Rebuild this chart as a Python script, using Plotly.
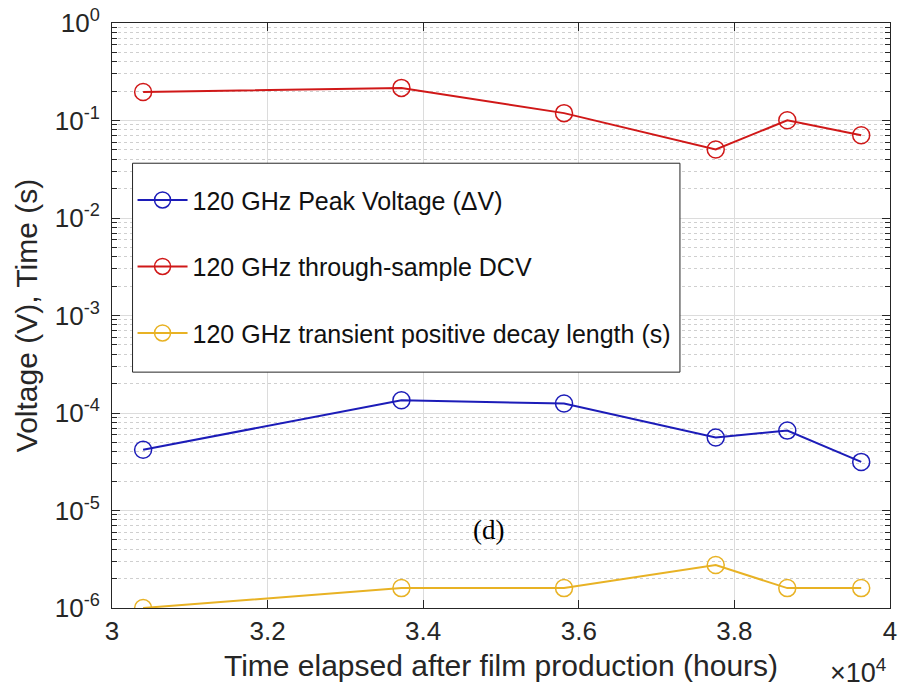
import plotly.graph_objects as go

# ---- data ----
hours = [30400, 33720, 35810, 37760, 38680, 39630]
peak_voltage = [4.2e-5, 1.35e-4, 1.25e-4, 5.6e-5, 6.6e-5, 3.15e-5]
dcv = [0.196, 0.216, 0.119, 0.0505, 0.1006, 0.0706]
decay_len = [1.0e-6, 1.6e-6, 1.6e-6, 2.76e-6, 1.6e-6, 1.6e-6]

names = ["120 GHz Peak Voltage (\u0394V)",
         "120 GHz through-sample DCV",
         "120 GHz transient positive decay length (s)"]
colors = ["#1c1cb8", "#d01818", "#e8b224"]

x_tickvals = [30000, 32000, 34000, 36000, 38000, 40000]
x_ticktext = ["3", "3.2", "3.4", "3.6", "3.8", "4"]
y_exps = [-6, -5, -4, -3, -2, -1, 0]
y_tickvals = [10.0 ** e for e in y_exps]
y_ticktext = ["10<sup>%d</sup>" % e for e in y_exps]
y_minor = [k * 10.0 ** e for e in y_exps[:-1] for k in range(2, 10)]

FONT = "Liberation Sans, Arial, sans-serif"
AX = "#262626"

fig = go.Figure()
for i, (ys, nm, c) in enumerate(zip([peak_voltage, dcv, decay_len], names, colors)):
    fig.add_trace(go.Scatter(
        x=hours, y=ys, name=nm, mode="lines+markers",
        line=dict(color=c, width=2),
        marker=dict(symbol="circle-open", size=17, color=c, line=dict(width=1.5, color=c)),
        legendgroup="g%d" % i,
    ))

fig.update_layout(
    width=899, height=695,
    margin=dict(l=112, r=9, t=23, b=87, autoexpand=False),
    paper_bgcolor="white", plot_bgcolor="white",
    font=dict(family=FONT, color=AX),
    showlegend=True,
    legend=dict(
        x=0.0264, y=0.7364, xanchor="left", yanchor="top",
        bgcolor="rgba(0,0,0,0)", borderwidth=0,
        font=dict(size=25, family=FONT, color="#111111"),
        traceorder="grouped", tracegroupgap=31,
        itemwidth=50,
    ),
    xaxis=dict(
        range=[30000, 40000], tickmode="array", tickvals=x_tickvals, ticktext=x_ticktext,
        showline=True, linecolor=AX, linewidth=1, mirror="ticks",
        ticks="inside", ticklen=8, tickcolor=AX, automargin=False,
        showgrid=True, gridcolor="#dcdcdc", gridwidth=1,
        zeroline=False,
        tickfont=dict(size=26, family=FONT, color=AX),
        title=dict(text="Time elapsed after film production (hours)",
                   font=dict(size=30, family=FONT, color=AX), standoff=9),
    ),
    yaxis=dict(
        type="log", range=[-6, 0], tickmode="array", tickvals=y_tickvals, ticktext=y_ticktext,
        showline=True, linecolor=AX, linewidth=1, mirror="ticks",
        ticks="inside", ticklen=8, tickcolor=AX, automargin=False,
        showgrid=True, gridcolor="#dcdcdc", gridwidth=1,
        zeroline=False,
        tickfont=dict(size=26, family=FONT, color=AX),
        ticklabelstandoff=6,
        minor=dict(tickmode="array", tickvals=y_minor, ticks="inside", ticklen=5,
                   tickcolor=AX, showgrid=True, gridcolor="#cfcfcf", griddash="dot",
                   gridwidth=1),
        title=dict(text="Voltage (V), Time (s)",
                   font=dict(size=30, family=FONT, color=AX), standoff=8),
    ),
)

# legend box (white, framed) drawn above the traces; legend items sit on top of it
fig.add_shape(type="rect", xref="paper", yref="paper",
              x0=0.0264, x1=0.730, y0=0.4032, y1=0.7603,
              fillcolor="white", line=dict(color=AX, width=1), layer="above")

fig.add_annotation(
    text="\u00d710<sup>4</sup>", xref="paper", yref="paper", x=0.997, y=-0.108,
    xanchor="right", yanchor="middle", showarrow=False,
    font=dict(size=27, family=FONT, color=AX),
)
fig.add_annotation(
    text="(d)", xref="x", yref="y", x=34840, y=-5.2,
    showarrow=False, font=dict(size=27, family="Liberation Serif, Times New Roman, serif", color="black"),
)

fig.write_html("out.html")
